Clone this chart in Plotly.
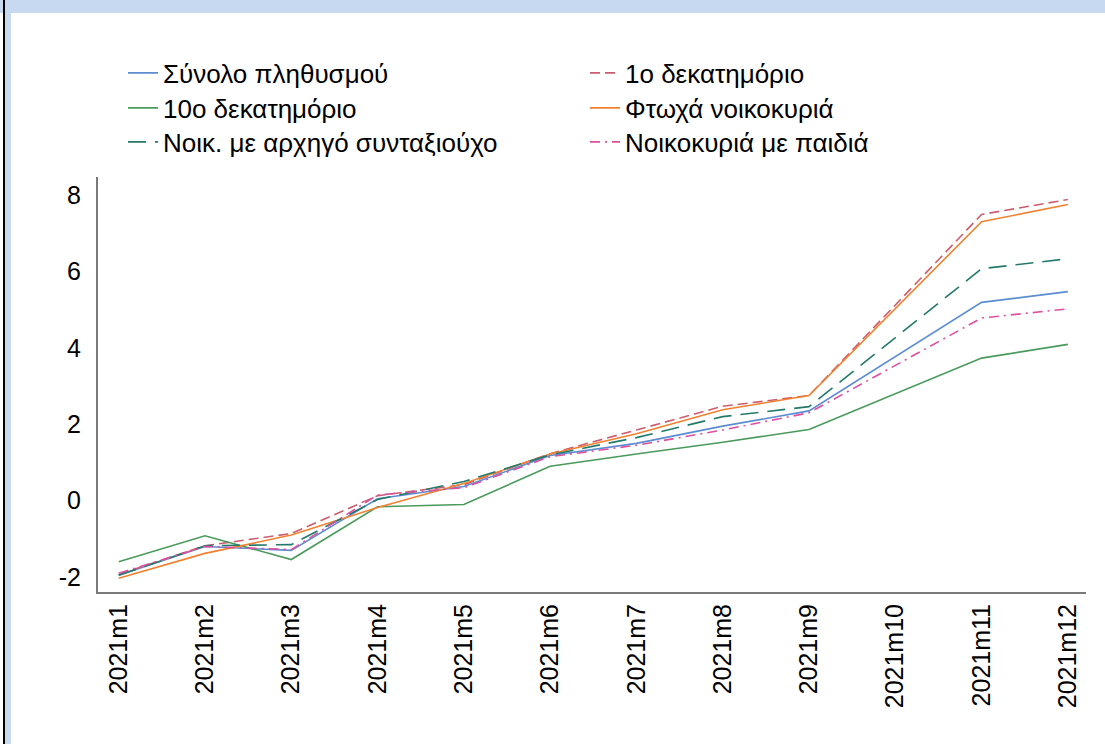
import plotly.graph_objects as go

categories = ["2021m1", "2021m2", "2021m3", "2021m4", "2021m5", "2021m6",
              "2021m7", "2021m8", "2021m9", "2021m10", "2021m11", "2021m12"]

total = [-1.95, -1.20, -1.30, 0.05, 0.37, 1.18, 1.50, 1.95, 2.35, 3.78, 5.19, 5.47]
decile1 = [-1.93, -1.18, -0.86, 0.13, 0.42, 1.23, 1.85, 2.47, 2.75, 5.12, 7.49, 7.88]
decile10 = [-1.60, -0.92, -1.54, -0.16, -0.10, 0.90, 1.22, 1.53, 1.86, 2.80, 3.73, 4.09]
poor = [-2.03, -1.38, -0.90, -0.18, 0.45, 1.22, 1.75, 2.38, 2.75, 5.02, 7.30, 7.75]
pensioner = [-1.95, -1.18, -1.15, 0.03, 0.50, 1.20, 1.65, 2.20, 2.46, 4.27, 6.07, 6.33]
children = [-1.90, -1.20, -1.28, 0.15, 0.34, 1.15, 1.45, 1.85, 2.30, 3.54, 4.78, 5.02]

y_tickvals = [-2, 0, 2, 4, 6, 8]
y_ticktext = ["-2", "0", "2", "4", "6", "8"]

names = ["Σύνολο πληθυσμού", "1ο δεκατημόριο", "10ο δεκατημόριο",
         "Φτωχά νοικοκυριά", "Νοικ. με αρχηγό συνταξιούχο", "Νοικοκυριά με παιδιά"]
series = [total, decile1, decile10, poor, pensioner, children]
colors = ["#5B8DD0", "#CC5C70", "#4A9A5C", "#F0822F", "#237A6B", "#DE4FA0"]
dashes = ["solid", "10px,5px", "solid", "solid", "18px,9px", "10px,5px,2px,5px"]
legends = ["legend", "legend", "legend2", "legend2", "legend3", "legend3"]

fig = go.Figure()
for nm, ys, c, d, lg in zip(names, series, colors, dashes, legends):
    fig.add_trace(go.Scatter(x=categories, y=ys, mode="lines", name=nm,
                             line=dict(color=c, width=1.6, dash=d), legend=lg))

W, H = 1105, 744
L, R, T, B = 98, 19, 177, 152
pw, ph = W - L - R, H - T - B

def px2x(px):
    return (px - L) / pw

def py2y(py):
    return 1 - (py - T) / ph

font = dict(family="Liberation Sans, Arial, sans-serif", size=25, color="black")
leg_font = dict(family="Liberation Sans, Arial, sans-serif", size=26, color="black")
leg_common = dict(orientation="h", xanchor="left", yanchor="middle",
                  x=px2x(123), entrywidth=417, font=leg_font,
                  bgcolor="rgba(0,0,0,0)", borderwidth=0, itemclick=False)

fig.update_layout(
    width=W, height=H,
    margin=dict(l=L, r=R, t=T, b=B, pad=0),
    paper_bgcolor="white", plot_bgcolor="white",
    font=font,
    showlegend=True,
    legend=dict(y=py2y(73), **leg_common),
    legend2=dict(y=py2y(108), **leg_common),
    legend3=dict(y=py2y(142), **leg_common),
    xaxis=dict(type="category", range=[-0.24, 11.21], showgrid=False,
               zeroline=False, showline=True, linecolor="#7a7a7a", linewidth=2,
               tickangle=-90, ticks="", tickfont=font),
    yaxis=dict(range=[-2.39, 8.47], tickvals=y_tickvals, ticktext=y_ticktext,
               showgrid=False, zeroline=False, showline=True,
               linecolor="#7a7a7a", linewidth=2, ticks="outside", ticklen=10,
               tickcolor="rgba(0,0,0,0)", tickfont=font),
    shapes=[
        dict(type="rect", xref="paper", yref="paper", x0=px2x(0), x1=px2x(W),
             y0=py2y(13), y1=py2y(0), fillcolor="#C6D9F0", line_width=0, layer="below"),
        dict(type="rect", xref="paper", yref="paper", x0=px2x(5), x1=px2x(11),
             y0=py2y(H), y1=py2y(0), fillcolor="#C6D9F0", line_width=0, layer="below"),
        dict(type="rect", xref="paper", yref="paper", x0=px2x(3), x1=px2x(5),
             y0=py2y(H), y1=py2y(0), fillcolor="black", line_width=0, layer="below"),
    ],
)

fig.write_html("out.html", config={"displayModeBar": False},
               post_script="document.body.style.margin='0';")
